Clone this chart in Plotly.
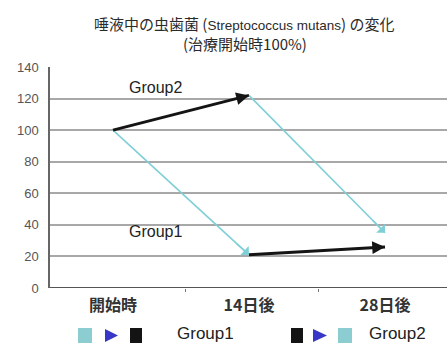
import plotly.graph_objects as go

categories = ["開始時", "14日後", "28日後"]
group1 = [100, 21, 26]
group2 = [100, 122, 35]
y_ticks = [0, 20, 40, 60, 80, 100, 120, 140]

CYAN = "#7fcfd6"
BLACK = "#141414"
BLUE = "#3838c8"

W, H = 447, 344
L, R, T, B = 50, 0, 67, 56
pw = W - L - R
ph = H - T - B
x0_px, unit_px = 113, 136
xr = [(L - x0_px) / unit_px, (W - R - x0_px) / unit_px]

xi = list(range(len(categories)))

fig = go.Figure()

segments = [
    (0, 1, group1, CYAN, 1.6),
    (1, 2, group1, BLACK, 3),
    (0, 1, group2, BLACK, 3),
    (1, 2, group2, CYAN, 1.6),
]
for a, b, s, c, w in segments:
    fig.add_trace(go.Scatter(x=[xi[a], xi[b]], y=[s[a], s[b]], mode="lines",
                             line=dict(color=c, width=w), showlegend=False,
                             hoverinfo="skip"))
    fig.add_annotation(x=xi[b], y=s[b], ax=xi[a] + (xi[b] - xi[a]) * 0.9,
                       ay=s[a] + (s[b] - s[a]) * 0.9,
                       xref="x", yref="y", axref="x", ayref="y", text="",
                       showarrow=True, arrowhead=2 if c == BLACK else 1,
                       arrowsize=0.85 if c == BLACK else 1.3,
                       arrowwidth=w, arrowcolor=c, standoff=0, startstandoff=0)

LAB_FONT = dict(family="Liberation Sans, Arial", size=16, color="#222")
fig.add_annotation(x=0.31, y=127, xref="x", yref="y", text="Group2", showarrow=False,
                   font=LAB_FONT)
fig.add_annotation(x=0.31, y=36, xref="x", yref="y", text="Group1", showarrow=False,
                   font=LAB_FONT)

def px(xp):
    return (xp - L) / pw

def py(yp):
    return (H - B - yp) / ph

shapes = []
def sq(x1, x2, color):
    shapes.append(dict(type="rect", xref="paper", yref="paper", x0=px(x1), x1=px(x2),
                       y0=py(343), y1=py(328), fillcolor=color, line=dict(width=0)))
def tri(x1, x2, color):
    path = f"M {px(x1)} {py(329)} L {px(x2)} {py(335.5)} L {px(x1)} {py(342)} Z"
    shapes.append(dict(type="path", xref="paper", yref="paper", path=path,
                       fillcolor=color, line=dict(width=0)))

sq(78, 92, "#8ccdd2"); tri(105, 118, BLUE); sq(130, 142, BLACK)
sq(291, 303, BLACK); tri(313, 327, BLUE); sq(338, 352, "#8ccdd2")
fig.update_layout(shapes=shapes)

for xp, t in [(175, "Group1"), (367, "Group2")]:
    fig.add_annotation(x=px(xp), y=py(333), xref="paper", yref="paper", text=t,
                       xanchor="left", yanchor="middle", showarrow=False,
                       font=dict(family="Liberation Sans, Arial", size=17, color="#222"))

TITLE_FONT = dict(family="Noto Sans CJK JP", size=15, color="#2a2a2a")
fig.add_annotation(x=px(244), y=py(23), xref="paper", yref="paper",
                   text="唾液中の虫歯菌 (<span style='font-size:13.5px;font-family:Liberation Sans'>Streptococcus mutans</span>) の変化",
                   showarrow=False, xanchor="center", yanchor="middle", font=TITLE_FONT)
fig.add_annotation(x=px(245), y=py(44), xref="paper", yref="paper",
                   text="(治療開始時100%)",
                   showarrow=False, xanchor="center", yanchor="middle", font=TITLE_FONT)

fig.update_layout(
    width=W, height=H,
    margin=dict(l=L, r=R, t=T, b=B),
    paper_bgcolor="white", plot_bgcolor="white",
    xaxis=dict(range=xr, tickvals=xi, ticktext=categories, showgrid=False,
               zeroline=False, showline=False, ticks="", ticklabelstandoff=6,
               tickfont=dict(family="Noto Sans CJK JP", size=16, color="#333", weight="bold"),
               minor=dict(tickvals=[0.53, 1.51], ticks="outside", ticklen=3,
                          tickcolor="#777", showgrid=False)),
    yaxis=dict(range=[0, 140], tickvals=y_ticks, showgrid=True, gridcolor="#a8a8a8",
               gridwidth=1.5, zeroline=False, showline=True, linecolor="#666",
               linewidth=1.5, ticks="", ticklabelstandoff=7,
               tickfont=dict(family="Liberation Sans, Arial", size=13, color="#555")),
)
fig.add_hline(y=0, line=dict(color="#555", width=2))

fig.write_html("out.html")
